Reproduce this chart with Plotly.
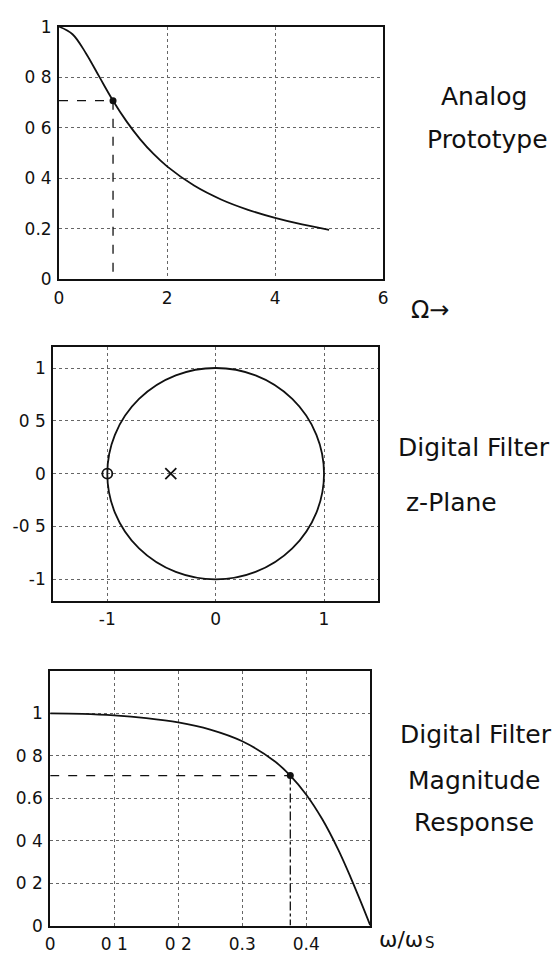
import plotly.graph_objects as go

# --- Analog prototype: first-order Butterworth magnitude ---
omega = [0, 0.25, 0.5, 0.75, 1.0, 1.25, 1.5, 1.75, 2.0, 2.5, 3.0, 3.5, 4.0, 4.5, 5.0]
analog_mag = [1.0, 0.970, 0.894, 0.800, 0.707, 0.625, 0.555, 0.496, 0.447,
              0.371, 0.316, 0.275, 0.243, 0.217, 0.196]
analog_cutoff = 1.0
half_power = 0.707

# --- Digital filter z-plane ---
zeros_re = [-1.0]
zeros_im = [0.0]
poles_re = [-0.414]
poles_im = [0.0]
unit_radius = 1.0

# --- Digital filter magnitude response vs normalised frequency ---
freq = [0, 0.05, 0.1, 0.15, 0.2, 0.25, 0.3, 0.35, 0.375, 0.4, 0.425, 0.45,
        0.47, 0.485, 0.5]
digital_mag = [1.0, 0.998, 0.991, 0.978, 0.958, 0.924, 0.869, 0.776, 0.707,
               0.617, 0.501, 0.357, 0.222, 0.113, 0.0]
digital_cutoff = 0.375

# Tick labels as printed
ax1_xticks = [0, 2, 4, 6]
ax1_xtext = ["0", "2", "4", "6"]
ax1_yticks = [0, 0.2, 0.4, 0.6, 0.8, 1.0]
ax1_ytext = ["0", "0.2", "0 4", "0 6", "0 8", "1"]
ax2_xticks = [-1, 0, 1]
ax2_xtext = ["-1", "0", "1"]
ax2_yticks = [-1, -0.5, 0, 0.5, 1]
ax2_ytext = ["-1", "-0 5", "0", "0 5", "1"]
ax3_xticks = [0, 0.1, 0.2, 0.3, 0.4]
ax3_xtext = ["0", "0 1", "0 2", "0.3", "0.4"]
ax3_yticks = [0, 0.2, 0.4, 0.6, 0.8, 1.0]
ax3_ytext = ["0", "0 2", "0 4", "0.6", "0 8", "1"]

W, H = 559, 965
FONT = "DejaVu Sans, Liberation Sans, sans-serif"
INK = "#111111"
GRID = "#666666"


def px_dom_x(a, b):
    return [a / W, b / W]


def px_dom_y(top, bottom):
    return [1 - bottom / H, 1 - top / H]


fig = go.Figure()

# Panel 1
fig.add_trace(go.Scatter(x=omega, y=analog_mag, mode="lines", line=dict(color=INK, width=1.8, shape="spline"),
                         xaxis="x", yaxis="y", showlegend=False))
fig.add_trace(go.Scatter(x=[0, analog_cutoff, analog_cutoff], y=[half_power, half_power, 0], mode="lines",
                         line=dict(color=INK, width=1.3, dash="dash"), xaxis="x", yaxis="y", showlegend=False))
fig.add_trace(go.Scatter(x=[analog_cutoff], y=[half_power], mode="markers",
                         marker=dict(color=INK, size=7), xaxis="x", yaxis="y", showlegend=False))

# Panel 2
fig.add_shape(type="circle", xref="x2", yref="y2", x0=-unit_radius, y0=-unit_radius,
              x1=unit_radius, y1=unit_radius, line=dict(color=INK, width=1.8))
fig.add_trace(go.Scatter(x=zeros_re, y=zeros_im, mode="markers",
                         marker=dict(symbol="circle-open", color=INK, size=10, line=dict(width=1.8)),
                         xaxis="x2", yaxis="y2", showlegend=False))
fig.add_trace(go.Scatter(x=poles_re, y=poles_im, mode="markers",
                         marker=dict(symbol="x-thin-open", color=INK, size=11, line=dict(width=1.8, color=INK)),
                         xaxis="x2", yaxis="y2", showlegend=False))

# Panel 3
fig.add_trace(go.Scatter(x=freq, y=digital_mag, mode="lines", line=dict(color=INK, width=1.8, shape="spline"),
                         xaxis="x3", yaxis="y3", showlegend=False))
fig.add_trace(go.Scatter(x=[0, digital_cutoff], y=[half_power, half_power], mode="lines",
                         line=dict(color=INK, width=1.3, dash="dash"), xaxis="x3", yaxis="y3", showlegend=False))
fig.add_trace(go.Scatter(x=[digital_cutoff, digital_cutoff], y=[half_power, 0], mode="lines",
                         line=dict(color=INK, width=1.3, dash="dashdot"), xaxis="x3", yaxis="y3", showlegend=False))
fig.add_trace(go.Scatter(x=[digital_cutoff], y=[half_power], mode="markers",
                         marker=dict(color=INK, size=7), xaxis="x3", yaxis="y3", showlegend=False))


def axis(domain, rng, ticks, text, anchor):
    return dict(domain=domain, range=rng, tickvals=ticks, ticktext=text, anchor=anchor,
                showline=True, mirror=True, linecolor=INK, linewidth=2,
                showgrid=True, gridcolor=GRID, griddash="dot", gridwidth=1,
                zeroline=False, ticks="", ticklabelstandoff=2,
                tickfont=dict(family=FONT, size=17, color=INK),
                fixedrange=True)


fig.update_layout(
    width=W, height=H, margin=dict(l=0, r=0, t=0, b=0),
    paper_bgcolor="white", plot_bgcolor="white",
    xaxis=axis(px_dom_x(55, 385), [0, 6], ax1_xticks, ax1_xtext, "y"),
    yaxis=axis(px_dom_y(17, 275), [0, 1], ax1_yticks, ax1_ytext, "x"),
    xaxis2=axis(px_dom_x(49, 380), [-1.5, 1.5], ax2_xticks, ax2_xtext, "y2"),
    yaxis2=axis(px_dom_y(344, 603), [-1.2, 1.2], ax2_yticks, ax2_ytext, "x2"),
    xaxis3=axis(px_dom_x(46, 372), [0, 0.5], ax3_xticks, ax3_xtext, "y3"),
    yaxis3=axis(px_dom_y(675, 935), [0, 1.2], ax3_yticks, ax3_ytext, "x3"),
)

# Panel captions on the right-hand side (text, centre x px, centre y px)
side_labels = [
    ("Analog", 488, 88), ("Prototype", 491, 132),
    ("Digital Filter", 478, 447), ("z-Plane", 455, 503),
    ("Digital Filter", 480, 740), ("Magnitude", 478, 787), ("Response", 478, 830),
]
for txt, x, y in side_labels:
    fig.add_annotation(text=txt, xref="paper", yref="paper", x=x / W, y=1 - y / H,
                       showarrow=False, xanchor="center", yanchor="middle",
                       font=dict(family=FONT, size=25, color=INK))

# Axis variable names
fig.add_annotation(text="Ω→", xref="paper", yref="paper", x=411 / W, y=1 - 306 / H,
                   showarrow=False, xanchor="left", yanchor="middle",
                   font=dict(family=FONT, size=24, color=INK))
fig.add_annotation(text="ω/ω", xref="paper", yref="paper", x=379 / W, y=1 - 949 / H,
                   showarrow=False, xanchor="left", yanchor="middle",
                   font=dict(family=FONT, size=22, color=INK))
fig.add_annotation(text="S", xref="paper", yref="paper", x=426 / W, y=1 - 953 / H,
                   showarrow=False, xanchor="left", yanchor="middle",
                   font=dict(family=FONT, size=15, color=INK))

fig.write_html("out.html")
